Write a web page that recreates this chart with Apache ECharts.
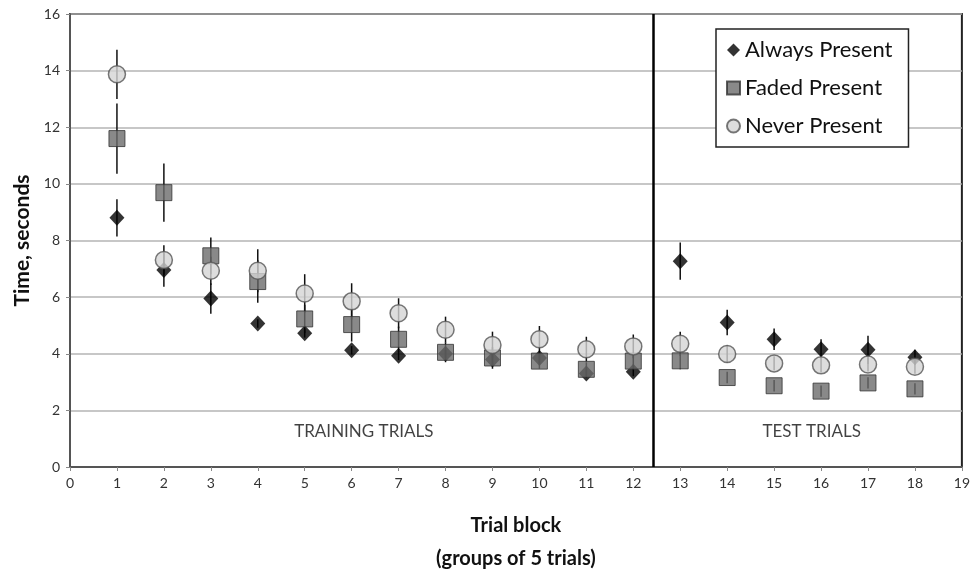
<!DOCTYPE html>
<html><head><meta charset="utf-8">
<script src="https://cdn.jsdelivr.net/npm/echarts@6/dist/echarts.min.js"></script>
<style>html,body{margin:0;padding:0;background:#fff}#c{width:973px;height:580px}</style>
</head><body><div id="c"></div>
<script>
const blocks = [1,2,3,4,5,6,7,8,9,10,11,12,13,14,15,16,17,18];
const alwaysPresent = [8.8,6.96,5.95,5.07,4.72,4.12,3.93,4.0,3.8,3.85,3.3,3.36,7.27,5.1,4.51,4.16,4.14,3.88];
const alwaysErr     = [0.66,0.59,0.54,0.15,0.15,0.15,0.15,0.15,0.2,0.2,0.15,0.15,0.66,0.45,0.38,0.35,0.5,0.26];
const fadedPresent  = [11.6,9.69,7.46,6.55,5.23,5.03,4.51,4.05,3.85,3.74,3.45,3.74,3.75,3.16,2.87,2.68,2.97,2.76];
const fadedErr      = [1.24,1.03,0.65,0.75,0.5,0.6,0.45,0.35,0.38,0.27,0.25,0.3,0.3,0.2,0.2,0.2,0.2,0.2];
const neverPresent  = [13.87,7.31,6.93,6.93,6.13,5.85,5.43,4.85,4.31,4.51,4.16,4.26,4.35,3.99,3.66,3.59,3.62,3.54];
const neverErr      = [0.87,0.52,0.5,0.76,0.68,0.64,0.53,0.46,0.47,0.47,0.44,0.42,0.43,0.3,0.25,0.25,0.25,0.25];
const seriesNames = ['Always Present','Faded Present','Never Present'];
const regionLabels = ['TRAINING TRIALS','TEST TRIALS'];
const regionX = [6.26, 15.8];
const regionY = [1.25, 1.25];
const dividerX = 12.43;
const yTicks = {min:0, max:16, interval:2};
const xTicks = {min:0, max:19, interval:1};

const FONT = 'Lato';
function pts(vals){ return blocks.map((b,i)=>[b, vals[i]]); }
function errs(vals, e){ return blocks.map((b,i)=>[b, vals[i], e[i]]); }
function errSeries(vals, e, extra){
  return Object.assign({
    type:'custom', silent:true, z:2,
    data: errs(vals,e),
    encode:{x:0,y:1},
    renderItem:function(params, api){
      const x = api.value(0), y = api.value(1), d = api.value(2);
      const p1 = api.coord([x, y-d]), p2 = api.coord([x, y+d]);
      return {type:'line', shape:{x1:p1[0],y1:p1[1],x2:p2[0],y2:p2[1]},
              style:{stroke:'#111', lineWidth:1.5}};
    }
  }, extra||{});
}

const chart = echarts.init(document.getElementById('c'));
chart.setOption({
  animation:false,
  backgroundColor:'#fff',
  grid:{left:70, right:7, top:14, bottom:104, show:true, borderColor:'#222', borderWidth:2},
  legend:{
    data:seriesNames, orient:'vertical', left:716, top:29,
    backgroundColor:'#fff', borderColor:'#222', borderWidth:1.5,
    padding:[10,16,10,10], itemGap:16, itemWidth:13, itemHeight:13,
    textStyle:{fontFamily:FONT, fontSize:22, color:'#111'}
  },
  xAxis:{
    type:'value', min:xTicks.min, max:xTicks.max, interval:xTicks.interval,
    splitLine:{show:false},
    axisLine:{show:true, lineStyle:{color:'#555', width:2}},
    axisTick:{show:true, length:4, lineStyle:{color:'#888'}},
    axisLabel:{fontFamily:FONT, fontSize:14, color:'#333', margin:9},
    name:'Trial block\n(groups of 5 trials)', nameLocation:'middle', nameGap:42,
    nameTextStyle:{fontFamily:FONT, fontSize:20, fontWeight:'bold', color:'#111', lineHeight:33}
  },
  yAxis:{
    type:'value', min:yTicks.min, max:yTicks.max, interval:yTicks.interval,
    splitLine:{show:true, lineStyle:{color:'#b5b5b5', width:1.5}},
    axisLine:{show:true, lineStyle:{color:'#555', width:2}},
    axisTick:{show:true, length:4, lineStyle:{color:'#888'}},
    axisLabel:{fontFamily:FONT, fontSize:14, color:'#333', margin:10},
    name:'Time, seconds', nameLocation:'middle', nameGap:34,
    nameTextStyle:{fontFamily:FONT, fontSize:21, fontWeight:'bold', color:'#111'}
  },
  series:[
    errSeries(alwaysPresent, alwaysErr, {
      markLine:{silent:true, symbol:'none', label:{show:false},
        lineStyle:{color:'#000', width:2.5, type:'solid'},
        data:[{xAxis:dividerX}]}
    }),
    errSeries(fadedPresent, fadedErr),
    errSeries(neverPresent, neverErr),
    {name:seriesNames[0], type:'scatter', z:3, data:pts(alwaysPresent),
     symbol:'diamond', symbolSize:[15,16],
     itemStyle:{color:'#000'}},
    {name:seriesNames[1], type:'scatter', z:4, data:pts(fadedPresent),
     symbol:'rect', symbolSize:16,
     itemStyle:{color:'#6b6b6b', borderColor:'#333', borderWidth:1}},
    {name:seriesNames[2], type:'scatter', z:5, data:pts(neverPresent),
     symbol:'circle', symbolSize:17,
     itemStyle:{color:'#d4d4d4', borderColor:'#555', borderWidth:1.5}},
    {type:'scatter', silent:true, symbol:'circle', symbolSize:1, z:6,
     itemStyle:{color:'rgba(0,0,0,0)'},
     data: regionLabels.map((t,i)=>({name:t, value:[regionX[i], regionY[i]]})),
     label:{show:true, position:'inside', formatter:p=>p.name,
       fontFamily:FONT, fontSize:17, color:'#111'}}
  ]
});
</script></body></html>
